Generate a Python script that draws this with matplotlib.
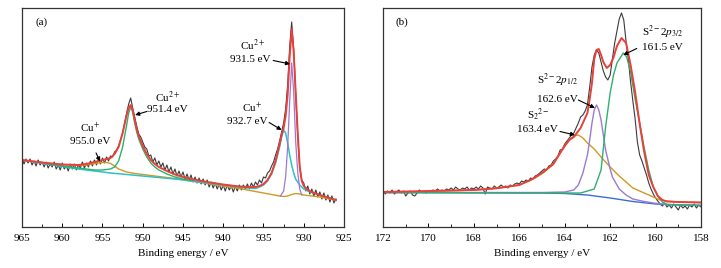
import numpy as np
import matplotlib
matplotlib.use("Agg")
import matplotlib.pyplot as plt

plt.rcParams['font.family'] = ['Liberation Serif', 'DejaVu Serif']
plt.rcParams['mathtext.fontset'] = 'stix'

# ---- (a) Cu 2p : measured spectrum, 965 -> 926 eV, step 0.25 eV
a_raw = [69, 63, 68, 64, 68, 62, 66, 61, 67, 62, 65, 60, 65, 59, 63, 60,
         65, 58, 62, 57, 64, 58, 61, 56, 63, 58, 63, 57, 62, 59, 65, 59,
         64, 60, 66, 61, 67, 62, 68, 63, 69, 64, 70, 66, 71, 70, 75, 77,
         81, 87, 94, 104, 114, 123, 129, 119, 110, 101, 93, 90, 85, 80, 78, 71,
         72, 65, 69, 62, 66, 60, 64, 57, 62, 55, 60, 53, 58, 51, 56, 50,
         55, 48, 53, 47, 52, 45, 50, 44, 49, 43, 48, 42, 47, 40, 45, 39,
         44, 38, 43, 37, 42, 36, 42, 37, 41, 35, 41, 36, 42, 37, 42, 38,
         43, 38, 44, 40, 45, 42, 47, 44, 50, 49, 54, 56, 61, 65, 72, 78,
         86, 95, 104, 118, 142, 180, 205, 178, 133, 92, 60, 47, 44, 36, 41, 33,
         38, 31, 37, 30, 35, 28, 34, 27, 32, 25, 31, 24, 28]
a_start, a_step = 965.0, 0.25

# fitted envelope
a_fit_e = [965, 962, 960, 958, 957, 956, 955, 954, 953.5, 953, 952.5, 952, 951.75,
           951.5, 951.25, 951, 950.75, 950.5, 950, 949.5, 949, 948.5, 948, 947, 946,
           945, 944, 942, 940, 938, 937, 936, 935.5, 935, 934.5, 934, 933.5, 933,
           932.75, 932.5, 932.25, 932, 931.75, 931.5, 931.25, 931, 930.75, 930.5,
           930.25, 930, 929.5, 929, 928, 927, 926]
a_fit_y = [67, 64, 62.5, 62, 63, 65, 67, 69, 73, 80, 94, 112, 119,
           122, 117, 107, 98, 91, 81, 73, 67, 63, 60, 56, 52.5,
           50, 48, 45, 42.5, 40.5, 40, 40, 41, 43, 47, 54, 66, 83,
           92, 99, 111, 132, 170, 198, 175, 134, 94, 60,
           46, 41, 37, 35, 32, 29.5, 27]

# Cu+ 932.7 eV (on background)
a_cu1_e = [965, 962, 960, 958, 956, 954, 952, 950, 948, 946, 944, 942, 940, 938,
           937, 936, 935.5, 935, 934.5, 934, 933.5, 933, 932.75, 932.5, 932.25,
           932, 931.75, 931.5, 931.25, 931, 930.5, 930, 929.5, 929, 928, 927, 926]
a_cu1_y = [67, 63, 60.5, 58, 56, 54, 52.5, 51, 49.5, 48, 46, 44, 42, 40,
           39, 38.5, 40, 42, 46, 53, 64, 80, 90, 97, 94,
           84, 72, 62, 54, 48, 42, 38, 36, 34.5, 32, 29.5, 27]

# Cu+ 955.0 eV satellite + background
a_sat_e = [965, 962, 960, 958, 957, 956, 955, 954.5, 954, 953.5, 953, 952, 951,
           950, 948, 946, 944, 942, 940, 938, 936, 934, 933, 932.5, 932, 931.5,
           931, 930.5, 930, 929, 928, 927, 926]
a_sat_y = [67, 64, 62.5, 61.5, 62, 63.5, 64.5, 64.5, 63.5, 61, 58, 55, 53.5,
           52.5, 50.5, 48.5, 46, 43.5, 41, 38.5, 35.5, 32.5, 31, 30.5, 31, 32.5,
           33.5, 33, 32, 31, 30, 28.5, 27]

# Cu2+ 951.4 eV
a_cu2b_e = [962, 960, 958, 956, 955, 954, 953.5, 953, 952.5, 952, 951.75, 951.5,
            951.25, 951, 950.75, 950.5, 950, 949.5, 949, 948.5, 948, 947, 946,
            945, 944]
a_cu2b_y = [63.5, 61, 59, 57, 57, 58, 60, 66, 80, 102, 114, 120,
            115, 104, 95, 88, 78, 70, 64, 60, 57, 53, 50,
            48, 46.5]

# Cu2+ 931.5 eV
a_cu2a_e = [932.9, 932.5, 932.25, 932, 931.75, 931.5, 931.25, 931, 930.75, 930.5, 930.25]
a_cu2a_y = [31, 36, 50, 80, 125, 164, 135, 85, 55, 38, 32]

# ---- (b) S 2p : measured spectrum, 172 -> 158 eV, step 0.1 eV
b_raw = [36, 33, 36, 34, 37, 33, 35, 37, 34, 36,
         31, 34, 36, 32, 31, 34, 37, 35, 35, 34,
         36, 35, 37, 36, 38, 36, 37, 36, 38, 37,
         39, 37, 40, 38, 37, 39, 38, 40, 37, 39,
         38, 40, 38, 41, 39, 33, 40, 39, 38, 41,
         39, 40, 42, 40, 41, 39, 42, 41, 43, 44,
         43, 46, 45, 47, 46, 49, 48, 51, 52, 54,
         56, 58, 57, 61, 62, 66, 68, 71, 77, 78,
         83, 86, 89, 92, 94, 99, 104, 110, 112, 116,
         122, 140, 160, 172, 177, 174, 165, 156, 150, 147,
         152, 168, 184, 196, 208, 214, 207, 186, 168, 145,
         126, 108, 85, 72, 66, 59, 52, 44, 38, 33,
         29, 26, 23, 21, 24, 20, 22, 19, 23, 20,
         17, 22, 19, 21, 18, 22, 20, 23, 19, 22,
         20]
b_start, b_step = 172.0, 0.1

b_fit_e = [172, 168, 167, 166, 165.5, 165, 164.5, 164.2, 164, 163.8, 163.6, 163.3,
           163, 162.9, 162.8, 162.7, 162.6, 162.5, 162.4, 162.3, 162.15, 162, 161.86,
           161.7, 161.5, 161.3, 161.1, 160.9, 160.7, 160.5, 160.3, 160.1, 159.9,
           159.7, 159.5, 159, 158]
b_fit_y = [35, 37, 38.7, 42, 47, 54, 63, 74, 81, 87, 90, 99,
           114, 128, 144, 168, 177, 178, 172, 165, 159, 162, 169,
           181, 189, 184, 162, 135, 103, 75, 52, 40, 31,
           27, 25.5, 25, 24.5]

b_bg_e = [172, 165, 164, 163, 162, 161, 160, 159, 158]
b_bg_y = [34.5, 34, 33.5, 32, 29, 25.5, 23, 22, 21.5]

b_s22_e = [172, 170, 168, 167, 166, 165.7, 165.3, 164.9, 164.5, 164.2, 164, 163.8,
           163.6, 163.4, 163.2, 163, 162.7, 162.4, 162, 161.6, 161.3, 161, 160.5,
           160, 159.8, 159.5, 159, 158]
b_s22_y = [35, 35.5, 37, 38.7, 42, 45, 49, 55, 63, 74, 81, 87,
           91, 92, 89, 84, 78, 70, 60, 51, 45, 39, 34,
           29, 27, 26, 25, 24.5]

b_p12_e = [172, 165, 164, 163.6, 163.4, 163.2, 163, 162.9, 162.8, 162.7, 162.6,
           162.5, 162.4, 162.3, 162.2, 162, 161.9, 161.6, 161.3, 161, 160.5, 160.1,
           159.5, 158]
b_p12_y = [34.5, 34.5, 35, 37, 42, 54, 72, 87, 104, 117, 122,
           117, 107, 92, 77, 58, 50, 38, 32, 28, 25.5, 24,
           22.5, 21.5]

b_p32_e = [172, 164, 163.3, 163, 162.7, 162.4, 162.2, 162, 161.85, 161.7, 161.42,
           161.27, 161.1, 160.9, 160.7, 160.5, 160.3, 160.1, 159.9, 159.7, 159.5, 158]
b_p32_y = [34.5, 34, 34, 36, 38, 57, 100, 134, 152, 164, 174,
           170, 155, 128, 104, 79, 57, 40, 31, 25, 22.5, 21.5]

c_raw = '#3a3a3a'
c_red = '#e8403a'
c_purple = '#9a7ad2'
c_green = '#2eb06e'
c_orange = '#cf9a22'
c_cyan = '#2fc0c8'
c_blue = '#3a6ed0'

fig = plt.figure(figsize=(7.21, 2.68), dpi=100)
ax1 = fig.add_axes([22 / 721, 41 / 268, 322 / 721, 219 / 268])
ax2 = fig.add_axes([383 / 721, 41 / 268, 318 / 721, 219 / 268])

a_e = a_start - a_step * np.arange(len(a_raw))
b_e = b_start - b_step * np.arange(len(b_raw))

# panel (a)
ax1.plot(a_e, a_raw, color=c_raw, lw=0.8)
ax1.plot(a_sat_e, a_sat_y, color=c_orange, lw=1.0)
ax1.plot(a_cu1_e, a_cu1_y, color=c_cyan, lw=1.1)
ax1.plot(a_cu2b_e, a_cu2b_y, color=c_green, lw=1.0)
ax1.plot(a_cu2a_e, a_cu2a_y, color=c_purple, lw=0.9)
ax1.plot(a_fit_e, a_fit_y, color=c_red, lw=1.4)

# panel (b)
ax2.plot(b_e, b_raw, color=c_raw, lw=0.8)
ax2.plot(b_bg_e, b_bg_y, color=c_blue, lw=1.0)
ax2.plot(b_s22_e, b_s22_y, color=c_orange, lw=1.0)
ax2.plot(b_p12_e, b_p12_y, color=c_purple, lw=1.0)
ax2.plot(b_p32_e, b_p32_y, color=c_green, lw=1.0)
ax2.plot(b_fit_e, b_fit_y, color=c_red, lw=1.4)

ax1.set_xlim(965, 925)
ax2.set_xlim(172, 158)
for ax in (ax1, ax2):
    ax.set_ylim(0, 219)
    ax.set_yticks([])
    for s in ax.spines.values():
        s.set_linewidth(0.9)
        s.set_color('#333333')
    ax.tick_params(axis='x', direction='in', length=3, width=0.7, labelsize=8, pad=5)
    ax.tick_params(axis='x', which='minor', direction='in', length=2, width=0.6)
ax1.set_xticks(np.arange(965, 924, -5))
ax1.set_xticks(np.arange(962.5, 925, -5), minor=True)
ax2.set_xticks(np.arange(172, 157, -2))
ax2.set_xticks(np.arange(171, 158, -2), minor=True)
ax1.set_xlabel('Binding energy / eV', fontsize=8, labelpad=4)
ax2.set_xlabel('Binding envergy / eV', fontsize=8, labelpad=4)

fs = 8
arr = dict(arrowstyle='-|>', color='black', lw=0.8, mutation_scale=6, shrinkA=0, shrinkB=0)

ax1.text(962.55, 205, '(a)', fontsize=fs, ha='center', va='center')
ax1.text(936.3, 182, 'Cu$^{2+}$', fontsize=fs, ha='center', va='center')
ax1.text(936.7, 167, '931.5 eV', fontsize=fs, ha='center', va='center')
ax1.annotate('', xy=(931.7, 163), xytext=(933.8, 166.5), arrowprops=arr)
ax1.text(936.4, 119, 'Cu$^{+}$', fontsize=fs, ha='center', va='center')
ax1.text(937.05, 105, '932.7 eV', fontsize=fs, ha='center', va='center')
ax1.annotate('', xy=(932.75, 97), xytext=(934.3, 104.5), arrowprops=arr)
ax1.text(946.9, 130, 'Cu$^{2+}$', fontsize=fs, ha='center', va='center')
ax1.text(947.0, 118, '951.4 eV', fontsize=fs, ha='center', va='center')
ax1.annotate('', xy=(950.95, 112), xytext=(949.5, 115.5), arrowprops=arr)
ax1.text(956.55, 99, 'Cu$^{+}$', fontsize=fs, ha='center', va='center')
ax1.text(956.55, 85, '955.0 eV', fontsize=fs, ha='center', va='center')
ax1.annotate('', xy=(955.3, 65.5), xytext=(955.8, 74), arrowprops=arr)

ax2.text(171.18, 205, '(b)', fontsize=fs, ha='center', va='center')
ax2.text(159.67, 195, 'S$^{2-}$2$p_{3/2}$', fontsize=fs, ha='center', va='center')
ax2.text(159.72, 179, '161.5 eV', fontsize=fs, ha='center', va='center')
ax2.annotate('', xy=(161.42, 172), xytext=(160.83, 178.5), arrowprops=arr)
ax2.text(164.3, 147, 'S$^{2-}$2$p_{1/2}$', fontsize=fs, ha='center', va='center')
ax2.text(164.34, 127, '162.6 eV', fontsize=fs, ha='center', va='center')
ax2.annotate('', xy=(162.67, 119), xytext=(163.4, 127), arrowprops=arr)
ax2.text(165.18, 112, 'S$_2$$^{2-}$', fontsize=fs, ha='center', va='center')
ax2.text(165.22, 97, '163.4 eV', fontsize=fs, ha='center', va='center')
ax2.annotate('', xy=(163.55, 92), xytext=(164.21, 95.5), arrowprops=arr)

fig.savefig('out.png', dpi=100)
